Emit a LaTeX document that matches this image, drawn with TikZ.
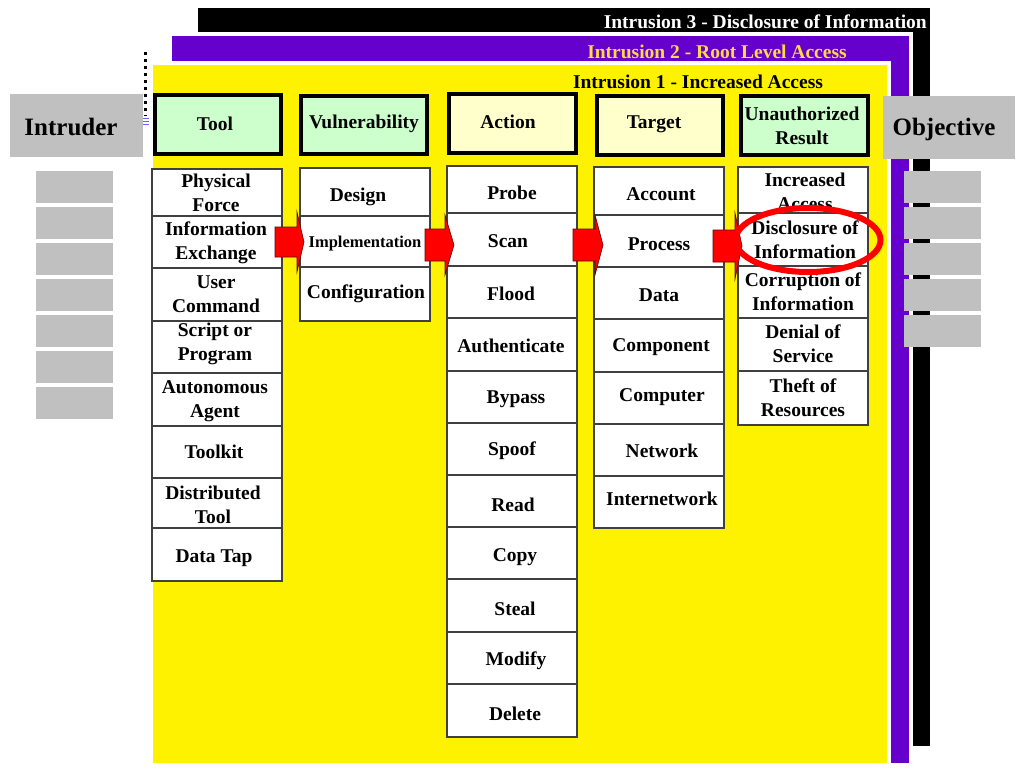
\documentclass[tikz,border=0pt]{standalone}
\usepackage{fontspec}
\setmainfont{Liberation Serif}
\usetikzlibrary{shapes.geometric}
\definecolor{ipurple}{HTML}{6600CC}
\definecolor{igray}{HTML}{C0C0C0}
\definecolor{igreen}{HTML}{CCFFCC}
\definecolor{iyellow}{HTML}{FFFFCC}
\definecolor{igold}{HTML}{FFD84A}
\definecolor{cellline}{HTML}{404040}
\definecolor{ired}{HTML}{FF0000}
\tikzset{
  cellbox/.style={draw=cellline, line width=1.2pt, fill=white, inner sep=0pt},
  greenhead/.style={draw=black, line width=4pt, fill=igreen, inner sep=0pt},
  yellowhead/.style={draw=black, line width=4pt, fill=iyellow, inner sep=0pt},
  lbl/.style={font=\bfseries\fontsize{19.5}{24}\selectfont, align=center, inner sep=0pt},
  biglbl/.style={font=\bfseries\fontsize{25}{30}\selectfont, align=center, inner sep=0pt},
  graybox/.style={fill=igray, inner sep=0pt},
  redarrow/.style={fill=ired, draw=black!60!red, line width=0.6pt},
}
% style, name, x1, y1, x2, y2, text x, text y, text
\newcommand\mkcell[9]{%
  \node[#1, minimum width={(#5-#3)*1pt}, minimum height={(#6-#4)*1pt}] (#2) at ({(#3+#5)/2},{(#4+#6)/2}) {};
  \node[lbl] (#2t) at (#7,#8) {#9};}
% left x, head base x, tip x, centre y, half body, half head
\newcommand\barrow[6]{%
  \draw[redarrow] (#1,{#4-#5}) -- (#2,{#4-#5}) -- (#2,{#4-#6}) -- (#3,#4) -- (#2,{#4+#6}) -- (#2,{#4+#5}) -- (#1,{#4+#5}) -- cycle;}
\begin{document}
\begin{tikzpicture}[x=1pt, y=-1pt]
\useasboundingbox[fill=white] (0,0) rectangle (1024,768);
% layered intrusion panels
\fill[black] (198,8) rectangle (930,746);
\filldraw[fill=ipurple, draw=white, line width=4pt] (170,34) rectangle (911,765);
\filldraw[fill=yellow, draw=white, line width=4pt] (151,63) rectangle (889,765);
\node[lbl, text=white, anchor=east] (i3) at (927,22) {Intrusion 3 - Disclosure of Information};
\node[lbl, text=igold] (i2) at (717,52) {Intrusion 2 - Root Level Access};
\node[lbl] (i1) at (698,82) {Intrusion 1 - Increased Access};
% gray boxes
\node[graybox, minimum width=133pt, minimum height=63pt] (intruder) at (76.5,125.5) {};
\node[biglbl] (intrudert) at (71,127) {Intruder};
\node[graybox, minimum width=132pt, minimum height=63pt] (objective) at (949,127.5) {};
\node[biglbl] (objectivet) at (944,129) {Objective};
\foreach \i in {0,...,6} \node[graybox, minimum width=77pt, minimum height=32pt] (lg\i) at (74.5,{187+36*\i}) {};
\foreach \i in {0,...,4} \node[graybox, minimum width=77pt, minimum height=32pt] (rg\i) at (942.5,{187+36*\i}) {};
% dotted marker
\coordinate (d1) at (145,52);
\coordinate (d2) at (145,116);
\draw[line width=3pt, dash pattern=on 3pt off 4pt] (d1) -- (d2);
\foreach \yy in {118,121,124} \draw[blue!60, line width=1pt] (143,\yy) -- (149,\yy);
% headers
\mkcell{greenhead}{htool}{155}{95}{281}{154}{215}{124}{Tool}
\mkcell{greenhead}{hvul}{301}{96}{427}{154}{364}{124}{Vulnerability}
\mkcell{yellowhead}{hact}{449}{94}{576}{153}{508}{122}{Action}
\mkcell{yellowhead}{htar}{597}{96}{723}{155}{654}{124}{Target}
\mkcell{greenhead}{hres}{741}{96}{868}{155}{802}{126}{Unauthorized\\Result}
% Tool column
\mkcell{cellbox}{tc1}{152}{169}{282}{216}{216}{193}{Physical\\Force}
\mkcell{cellbox}{tc2}{152}{216}{282}{268}{216}{243}{Information\\Exchange}
\mkcell{cellbox}{tc3}{152}{268}{282}{321}{216}{294}{User\\Command}
\mkcell{cellbox}{tc4}{152}{321}{282}{373}{215}{344}{Script or\\Program}
\mkcell{cellbox}{tc5}{152}{373}{282}{426}{215}{401}{Autonomous\\Agent}
\mkcell{cellbox}{tc6}{152}{426}{282}{478}{214}{452}{Toolkit}
\mkcell{cellbox}{tc7}{152}{478}{282}{528}{213}{505}{Distributed\\Tool}
\mkcell{cellbox}{tc8}{152}{528}{282}{581}{214}{558}{Data Tap}
% Vulnerability column
\mkcell{cellbox}{vc1}{300}{168}{430}{216}{358}{197}{Design}
\node[cellbox, minimum width=130pt, minimum height=51pt] (vc2) at (365,241.5) {};
\node[lbl, font=\bfseries\fontsize{16.5}{20}\selectfont] (vc2t) at (365,244) {Implementation};
\mkcell{cellbox}{vc3}{300}{267}{430}{321}{366}{294}{Configuration}
% Action column
\mkcell{cellbox}{ac1}{447}{166}{577}{213}{512}{193}{Probe}
\mkcell{cellbox}{ac2}{447}{213}{577}{266}{508}{241}{Scan}
\mkcell{cellbox}{ac3}{447}{266}{577}{318}{511}{294}{Flood}
\mkcell{cellbox}{ac4}{447}{318}{577}{371}{511}{346}{Authenticate}
\mkcell{cellbox}{ac5}{447}{371}{577}{423}{516}{399}{Bypass}
\mkcell{cellbox}{ac6}{447}{423}{577}{475}{512}{451}{Spoof}
\mkcell{cellbox}{ac7}{447}{475}{577}{527}{513}{505}{Read}
\mkcell{cellbox}{ac8}{447}{527}{577}{579}{515}{557}{Copy}
\mkcell{cellbox}{ac9}{447}{579}{577}{632}{515}{609}{Steal}
\mkcell{cellbox}{ac10}{447}{632}{577}{684}{516}{661}{Modify}
\mkcell{cellbox}{ac11}{447}{684}{577}{737}{515}{714}{Delete}
% Target column
\mkcell{cellbox}{gc1}{594}{167}{724}{215}{661}{194}{Account}
\mkcell{cellbox}{gc2}{594}{215}{724}{267}{659}{244}{Process}
\mkcell{cellbox}{gc3}{594}{267}{724}{319}{659}{295}{Data}
\mkcell{cellbox}{gc4}{594}{319}{724}{372}{661}{347}{Component}
\mkcell{cellbox}{gc5}{594}{372}{724}{424}{662}{397}{Computer}
\mkcell{cellbox}{gc6}{594}{424}{724}{476}{662}{451}{Network}
\mkcell{cellbox}{gc7}{594}{476}{724}{528}{662}{499}{Internetwork}
% Unauthorized Result column
\mkcell{cellbox}{rc1}{738}{167}{868}{213}{805}{192}{Increased\\Access}
\mkcell{cellbox}{rc2}{738}{213}{868}{266}{805}{240}{Disclosure of\\Information}
\mkcell{cellbox}{rc3}{738}{266}{868}{318}{803}{292}{Corruption of\\Information}
\mkcell{cellbox}{rc4}{738}{318}{868}{371}{803}{344}{Denial of\\Service}
\mkcell{cellbox}{rc5}{738}{371}{868}{425}{803}{398}{Theft of\\Resources}
% block arrows
\barrow{275}{297}{304}{242}{15}{30}
\barrow{425}{445}{454}{245}{16}{30}
\barrow{573}{595}{603}{245}{16}{30}
\barrow{713}{735}{742}{246}{16}{33}
% highlight
\node[draw=ired, ellipse, line width=6pt, minimum width=145pt, minimum height=64pt, inner sep=0pt] (hl) at (808,240) {};
\end{tikzpicture}
\end{document}
